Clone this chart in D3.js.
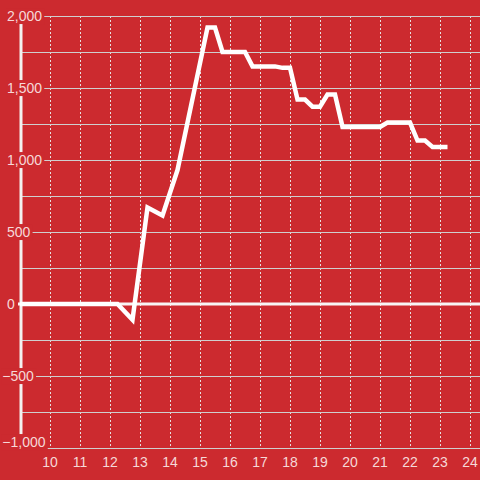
<!DOCTYPE html>
<html><head><meta charset="utf-8">
<script src="https://cdn.jsdelivr.net/npm/d3@7"></script>
<style>html,body{margin:0;padding:0;background:#cc2a2f;}svg{display:block;}</style>
</head><body>
<script>
const hours = [9, 12.25, 12.75, 13.25, 13.75, 14.25, 15.25, 15.5, 15.75, 16.5, 16.75, 17.5, 17.75, 18, 18.25, 18.5, 18.75, 19, 19.25, 19.5, 19.75, 21, 21.25, 22, 22.25, 22.5, 22.75, 23.25];
const values = [0, 0, -110, 670, 615, 930, 1920, 1920, 1750, 1750, 1650, 1650, 1640, 1640, 1420, 1420, 1370, 1370, 1455, 1455, 1230, 1230, 1260, 1260, 1135, 1135, 1090, 1090];
const xTicks = [10, 11, 12, 13, 14, 15, 16, 17, 18, 19, 20, 21, 22, 23, 24];
const yTicks = [-1000, -500, 0, 500, 1000, 1500, 2000];
const yGrid = [-1000, -750, -500, -250, 250, 500, 750, 1000, 1250, 1500, 1750, 2000];

const W = 480, H = 480;
const bg = "#cc2a2f", labelColor = "#f6d8d8";
const x = d3.scaleLinear().domain([9, 24 + 1/3]).range([20, 480]);
const y = d3.scaleLinear().domain([-1000, 2000]).range([448, 16]);

const svg = d3.select("body").append("svg").attr("width", W).attr("height", H);
svg.append("rect").attr("width", W).attr("height", H).attr("fill", bg);

// vertical dashed grid
svg.append("g").selectAll("line").data(xTicks).join("line")
  .attr("x1", d => Math.round(x(d)) + 0.5).attr("x2", d => Math.round(x(d)) + 0.5)
  .attr("y1", y(2000)).attr("y2", y(-1000))
  .attr("stroke", "#e6e0e0").attr("stroke-width", 1).attr("stroke-dasharray", "2,2");

// horizontal grid
svg.append("g").selectAll("line").data(yGrid).join("line")
  .attr("x1", 20).attr("x2", 480)
  .attr("y1", d => Math.round(y(d)) + 0.5).attr("y2", d => Math.round(y(d)) + 0.5)
  .attr("stroke", "#cfcfcf").attr("stroke-width", 1.2);

// y axis line
svg.append("line").attr("x1", 21).attr("x2", 21).attr("y1", y(2000)).attr("y2", y(-1000))
  .attr("stroke", "#f4f0f0").attr("stroke-width", 3);

// zero line
svg.append("line").attr("x1", 18).attr("x2", 480).attr("y1", y(0)).attr("y2", y(0))
  .attr("stroke", "#f8f4f4").attr("stroke-width", 3);

// y labels with background
const fmt = d3.format(",");
const yl = svg.append("g").selectAll("g").data(yTicks).join("g");
yl.each(function(d) {
  const g = d3.select(this);
  const ty = Math.min(y(d), 442);
  const t = g.append("text")
    .attr("x", d < 0 ? 2.3 : 7).attr("y", ty).attr("dy", "0.36em")
    .attr("font-family", "Liberation Sans, Arial, sans-serif").attr("font-size", 14)
    .attr("fill", labelColor).text(fmt(d));
  if (d !== 0) {
    const b = t.node().getBBox();
    g.insert("rect", "text").attr("x", b.x - 1).attr("y", b.y).attr("width", b.width + 3).attr("height", b.height)
      .attr("fill", bg);
  }
});

// x labels
svg.append("g").selectAll("text").data(xTicks).join("text")
  .attr("x", d => x(d)).attr("y", 467).attr("text-anchor", "middle")
  .attr("font-family", "Liberation Sans, Arial, sans-serif").attr("font-size", 14)
  .attr("fill", labelColor).text(d => d);

// data line
const pts = hours.map((h, i) => [h, values[i]]);
svg.append("path").datum(pts)
  .attr("d", d3.line().x(d => x(d[0])).y(d => y(d[1])))
  .attr("fill", "none").attr("stroke", "#ffffff").attr("stroke-width", 4.5)
  .attr("stroke-linejoin", "miter");
</script>
</body></html>
